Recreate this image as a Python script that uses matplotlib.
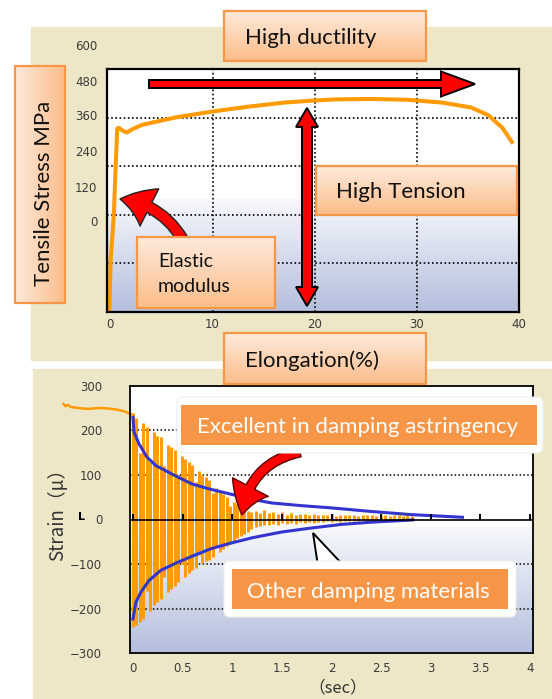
import numpy as np
import matplotlib
matplotlib.use('Agg')
import matplotlib.pyplot as plt
from matplotlib.colors import LinearSegmentedColormap
from matplotlib.patches import Rectangle, FancyBboxPatch, FancyArrow, FancyArrowPatch, Polygon

W, H = 552, 699

# --- tensile test (top chart) ---
elongation = [-0.1, 0.03, 0.35, 0.45, 0.60, 0.67, 0.82, 1.2, 1.6, 2.2, 3.1, 4.5, 6.5, 8.5,
              10, 13.5, 17, 19.8, 22.1, 25.6, 29.1, 32.5, 35.3, 37.0, 38.4, 39.3]
stress = [0, 128, 244, 318, 408, 453, 455, 448, 443, 452, 462, 470, 481, 489,
          495, 507, 517, 522, 525, 526, 524, 517, 505, 486, 454, 420]
stress_labels = ['600', '480', '360', '240', '120', '0']
elong_ticks = [0, 10, 20, 30, 40]
elong_grid = [10, 20, 30]
stress_grid = [120, 240, 360, 480]

# --- damping test (bottom chart) ---
pre_time = [-0.70, -0.68, -0.66, -0.62, -0.55, -0.45, -0.35, -0.25, -0.15, -0.08, -0.02]
pre_strain = [259, 254, 257, 252, 250, 248, 250, 249, 246, 242, 236]

osc_time = [0.00, 0.035, 0.07, 0.105, 0.14, 0.175, 0.21, 0.245, 0.28, 0.315, 0.35, 0.385,
            0.42, 0.455, 0.49, 0.525, 0.56, 0.595, 0.63, 0.665, 0.70, 0.735, 0.77, 0.805,
            0.84, 0.875, 0.91, 0.945, 0.98, 1.015, 1.05, 1.085, 1.12, 1.155, 1.19,
            1.235, 1.28, 1.325, 1.37, 1.415, 1.46, 1.505, 1.55, 1.595, 1.64, 1.685, 1.73,
            1.775, 1.82, 1.865, 1.91, 1.955, 2.0, 2.045, 2.09, 2.135, 2.18, 2.225, 2.27,
            2.315, 2.36, 2.405, 2.45, 2.495, 2.54, 2.585, 2.63, 2.675, 2.72, 2.765, 2.81]
osc_top = [238, 228, 150, 216, 208, 130, 196, 188, 184, 120, 168, 162,
           156, 100, 142, 136, 128, 122, 85, 108, 100, 95, 88, 60,
           70, 64, 57, 50, 30, 40, 34, 26, 22, 20, 17,
           19, 15, 21, 14, 17, 12, 16, 11, 14, 10, 13, 12,
           9, 12, 10, 11, 9, 12, 8, 10, 11, 9, 10, 8,
           11, 9, 10, 8, 10, 9, 8, 10, 9, 8, 9, 7]
osc_bottom = [-240, -236, -229, -222, -160, -205, -192, -186, -178, -130, -162, -155,
              -148, -141, -100, -128, -121, -114, -108, -80, -98, -94, -90, -84,
              -60, -72, -66, -60, -54, -48, -42, -37, -33, -28, -22,
              -16, -14, -12, -13, -9, -12, -8, -10, -7, -9, -6, -8,
              -5, -7, -5, -6, -4, -5, -3, -5, -4, -3, -4, -3,
              -2, -3, -2, -3, -2, -2, -2, -3, -2, -2, -1, -1]

upper_time = [0, 0.01, 0.06, 0.14, 0.23, 0.40, 0.59, 0.76, 1.0, 1.2, 1.4, 1.7, 2.0, 2.4, 2.8, 3.06, 3.32]
upper_env = [229, 196, 170, 140, 121, 101, 80, 69, 56, 45, 37, 31, 26, 18, 11, 8, 5]
lower_time = [0, 0.03, 0.08, 0.16, 0.28, 0.45, 0.61, 0.78, 0.95, 1.2, 1.5, 1.8, 2.1, 2.4, 2.82]
lower_env = [-223, -185, -163, -137, -114, -96, -81, -66, -55, -41, -28, -19, -11, -6, -1]

time_ticks = [0, 0.5, 1, 1.5, 2, 2.5, 3, 3.5, 4]
strain_ticks = [-300, -200, -100, 0, 100, 200, 300]
strain_grid = [-200, -100, 100, 200]

BEIGE = '#EEE7C7'
ORANGE = '#FF9A00'
BLUE = '#3434CE'
BOX_ORANGE = '#F79646'
TICK_GREY = '#3a3a3a'

plt.rcParams['font.family'] = ['Lato', 'DejaVu Sans']

fig = plt.figure(figsize=(W / 100, H / 100), dpi=100)
fig.patch.set_facecolor('white')


def px_rect(x0, y0, x1, y1):
    return [x0 / W, 1 - y1 / H, (x1 - x0) / W, (y1 - y0) / H]


# background panels
bg = fig.add_axes([0, 0, 1, 1], zorder=0)
bg.set_xlim(0, W)
bg.set_ylim(H, 0)
bg.axis('off')
bg.add_patch(Rectangle((31, 27), W - 31, 333, color=BEIGE))
bg.add_patch(Rectangle((33, 369), W - 33, H - 369, color=BEIGE))

fade = LinearSegmentedColormap.from_list('fade', ['#F6F8FC', '#B4BFDD'])
grad = np.linspace(0, 1, 256).reshape(-1, 1)

# ---------------- top chart ----------------
ax1 = fig.add_axes(px_rect(107, 69, 519, 312), zorder=1)
ax1.imshow(grad, cmap=fade, extent=[-0.33, 40, 0, 279], aspect='auto', zorder=0)
for g in elong_grid:
    ax1.axvline(g, color='black', lw=1.2, ls=(0, (1, 1.5)), zorder=1)
for g in stress_grid:
    ax1.axhline(g, color='black', lw=1.2, ls=(0, (1, 1.5)), zorder=1)
ax1.plot(elongation, stress, color=ORANGE, lw=2.9, zorder=2)
ax1.set_xlim(-0.33, 40)
ax1.set_ylim(0, 600)
ax1.set_xticks(elong_ticks)
ax1.set_xticklabels([str(v) for v in elong_ticks], family='DejaVu Sans', fontsize=8.5, color=TICK_GREY)
ax1.set_yticks([])
ax1.tick_params(axis='x', length=0, pad=4.5)
for s in ax1.spines.values():
    s.set_linewidth(1.6)

# ---------------- bottom chart ----------------
ax2 = fig.add_axes(px_rect(130, 385.7, 533, 653.3), zorder=1)
ax2.imshow(grad, cmap=fade, extent=[-0.03, 4.03, -300, -19], aspect='auto', zorder=0)
for g in strain_grid:
    ax2.axhline(g, color='black', lw=1.1, ls=(0, (1, 1.5)), zorder=1)
ax2.vlines(osc_time, osc_bottom, osc_top, color=ORANGE, lw=2.1, zorder=2)
ax2.plot(pre_time, pre_strain, color=ORANGE, lw=1.8, clip_on=False, zorder=2)
ax2.plot(upper_time, upper_env, color=BLUE, lw=2.2, zorder=3)
ax2.plot(lower_time, lower_env, color=BLUE, lw=2.2, zorder=3)
ax2.axhline(0, color='black', lw=1.2, zorder=4)
ax2.plot(time_ticks, [0] * len(time_ticks), ls='none', marker=2, ms=4, mew=1.4,
         color='black', zorder=4)
ax2.set_xlim(-0.03, 4.03)
ax2.set_ylim(-300, 300)
ax2.set_xticks(time_ticks)
ax2.set_xticklabels([f'{v:g}' for v in time_ticks], family='DejaVu Sans', fontsize=8.5, color=TICK_GREY)
ax2.set_yticks(strain_ticks)
ax2.set_yticklabels([f'{v}'.replace('-', '\u2212') for v in strain_ticks],
                    family='DejaVu Sans', fontsize=8.5, color=TICK_GREY)
ax2.tick_params(axis='x', length=0, pad=6)
ax2.tick_params(axis='y', length=0, pad=20)
for s in ax2.spines.values():
    s.set_linewidth(1.3)

# ---------------- overlay: labels, boxes, arrows ----------------
ov = fig.add_axes([0, 0, 1, 1], zorder=5)
ov.patch.set_alpha(0)
ov.axis('off')

# stress labels sit where the original put them (not on the grid)
for lab, yy in zip(stress_labels, [47, 83, 117, 152, 188, 222]):
    ov.text(97.5, yy, lab, ha='right', va='center', family='DejaVu Sans',
            fontsize=8.5, color=TICK_GREY)
ov.text(81.5, 517, 'L', ha='center', va='center', family='DejaVu Sans',
        fontsize=8, fontweight='bold', color='black')

ov.text(58, 510, 'Strain（μ）', rotation=90, ha='center', va='center',
        family=['Noto Sans CJK JP', 'DejaVu Sans'], fontsize=13.5, color='#333333')
ov.text(338, 688, '（sec）', ha='center', va='center',
        family=['Noto Sans CJK JP', 'DejaVu Sans'], fontsize=12, color='#333333')

peach = LinearSegmentedColormap.from_list('peach', ['#FEEADB', '#FBBD8A'])


def peach_box(x0, y0, x1, y1, vertical=False):
    g = np.linspace(0, 1, 64)
    img = g.reshape(1, -1) if vertical else g.reshape(-1, 1)
    ov.imshow(img, cmap=peach, extent=[x0, x1, y1, y0], aspect='auto',
              interpolation='bilinear', zorder=6)
    ov.add_patch(Rectangle((x0, y0), x1 - x0, y1 - y0, fill=False,
                           ec=BOX_ORANGE, lw=1.6, zorder=7))


BIG = 16.0

# red arrows
ov.add_patch(FancyArrow(149, 84, 326, 0, width=8, head_width=25, head_length=34,
                        length_includes_head=True, fc='#FF0000', ec='black', lw=1.4, zorder=6))
c, ya, yb, sh, hh, hl = 307, 108, 306, 5, 11, 19
ov.add_patch(Polygon([(c, ya), (c + hh, ya + hl), (c + sh, ya + hl), (c + sh, yb - hl),
                      (c + hh, yb - hl), (c, yb), (c - hh, yb - hl), (c - sh, yb - hl),
                      (c - sh, ya + hl), (c - hh, ya + hl)],
                     closed=True, fc='#FF0000', ec='black', lw=1.4, zorder=6))
ov.add_patch(FancyArrowPatch((183, 240), (120, 199),
                             arrowstyle='simple,head_length=22,head_width=30,tail_width=8',
                             connectionstyle='arc3,rad=0.25', shrinkA=0, shrinkB=0,
                             fc='#FF0000', ec='#222222', lw=1.0, zorder=6))
ov.add_patch(FancyArrowPatch((300, 452), (242, 515),
                             arrowstyle='simple,head_length=21,head_width=29,tail_width=7',
                             connectionstyle='arc3,rad=0.35', shrinkA=0, shrinkB=0,
                             fc='#FF0000', ec='#5a0000', lw=1.0, zorder=6))
ov.add_patch(Polygon([(313, 533), (318, 566), (344, 566)], closed=True,
                     fc='white', ec='black', lw=1.4, zorder=6))

# peach label boxes
peach_box(224, 11, 425.5, 61)
ov.text(244.6, 44.3, 'High ductility', fontsize=BIG, color='#111111', zorder=8)
peach_box(15, 66, 65, 303, vertical=True)
ov.text(49.6, 193, 'Tensile Stress MPa', rotation=90, rotation_mode='anchor',
        ha='center', va='baseline', fontsize=BIG, color='#111111', zorder=8)
peach_box(315.5, 166, 517, 215)
ov.text(336, 198.3, 'High Tension', fontsize=BIG, color='#111111', zorder=8)
peach_box(136.5, 237, 274.7, 308)
ov.text(157.8, 266.7, 'Elastic', fontsize=14, color='#111111', zorder=8)
ov.text(157.8, 291.7, 'modulus', fontsize=14, color='#111111', zorder=8)
peach_box(224, 333, 425.5, 384)
ov.text(244.6, 366.7, 'Elongation(%)', fontsize=BIG, color='#111111', zorder=8)

# orange callouts on the damping chart
ov.add_patch(FancyBboxPatch((177, 397), 366, 56, boxstyle='round,pad=0,rounding_size=6',
                            fc='white', ec='#EEEEEE', lw=0.8, zorder=7))
ov.add_patch(Rectangle((181, 405), 356, 40, fc=BOX_ORANGE, ec='none', zorder=8))
ov.text(197, 433.3, 'Excellent in damping astringency', fontsize=BIG, color='white', zorder=9)
ov.add_patch(FancyBboxPatch((224, 561), 292, 56, boxstyle='round,pad=0,rounding_size=6',
                            fc='white', ec='#EEEEEE', lw=0.8, zorder=7))
ov.add_patch(Rectangle((231.7, 569), 276.3, 40, fc=BOX_ORANGE, ec='none', zorder=8))
ov.text(246.7, 598.3, 'Other damping materials', fontsize=BIG, color='white', zorder=9)

ov.set_xlim(0, W)
ov.set_ylim(H, 0)

fig.savefig('out.png', dpi=100)
